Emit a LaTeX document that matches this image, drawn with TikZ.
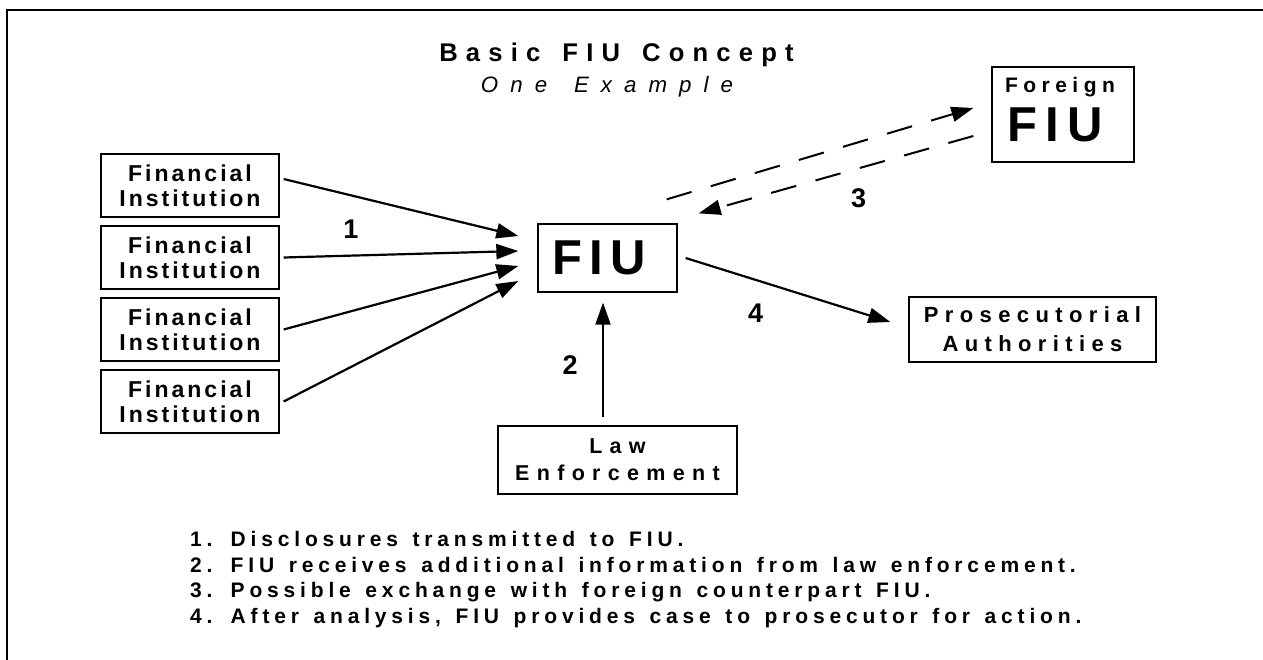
\documentclass[tikz,border=0pt]{standalone}
\usepackage{fontspec}
\setmainfont{Liberation Sans}
\usetikzlibrary{arrows.meta,calc}
\newcommand\lsb[4]{\fontsize{#1pt}{#2pt}\selectfont\bfseries\addfontfeatures{LetterSpace=#3}\spaceskip=#4\fontdimen2\font\relax}
\newcommand\lsi[4]{\fontsize{#1pt}{#2pt}\selectfont\itshape\addfontfeatures{LetterSpace=#3}\spaceskip=#4\fontdimen2\font\relax}
\begin{document}
\begin{tikzpicture}[x=1pt,y=-1pt,
  box/.style={draw, line width=1.3pt, inner sep=0pt},
  fibox/.style={box, minimum width=178pt, minimum height=63pt, align=center, font=\lsb{23}{25}{13}{1}},
  arr/.style={line width=2.2pt, -{Triangle[length=22pt,width=15pt]}},
  dsh/.style={line width=2pt, dash pattern=on 26pt off 20pt, -{Triangle[length=22pt,width=15pt]}},
  num/.style={inner sep=0pt, font=\lsb{27}{30}{0}{1}},
  note/.style={anchor=base west, inner sep=0pt, font=\lsb{21}{25.7}{23}{1.37}}]
\useasboundingbox (0,0) rectangle (1263,660);
\draw[line width=2pt] (7,660) -- (7,10) -- (1263,10);
% title
\node[anchor=base, inner sep=0pt, font=\lsb{25.6}{30}{32}{1.44}] (title) at (616.5,62) {Basic FIU Concept};
\node[anchor=base, inner sep=0pt, font=\lsi{22.3}{26}{54}{1.47}] (sub) at (607,93) {One Example};
% boxes
\node[fibox] (fi1) at (190,185.5) {Financial\\Institution};
\node[fibox] (fi2) at (190,257.5) {Financial\\Institution};
\node[fibox] (fi3) at (190,329.5) {Financial\\Institution};
\node[fibox] (fi4) at (190,401.5) {Financial\\Institution};
\node[box, minimum width=139pt, minimum height=68pt, font=\lsb{49}{50}{15}{1}] (fiu) at (607.5,258) {FIU\kern16pt};
\node[box, minimum width=239pt, minimum height=68pt, align=center, font=\lsb{21.5}{27}{34}{1}] (le) at (617.5,460) {Law\\Enforcement};
\node[box, minimum width=247pt, minimum height=65pt, align=center, font=\lsb{22}{29}{29}{1}] (pros) at (1032.5,329.5) {Prosecutorial\\Authorities};
\node[box, minimum width=142pt, minimum height=95pt] (ffiu) at (1063,114.5) {};
\node[anchor=base, inner sep=0pt, font=\lsb{21}{25}{26}{1}] (fortxt) at (1060,93) {Foreign};
\node[anchor=base, inner sep=0pt, font=\lsb{49}{52}{17}{1}] (ffiutxt) at (1055,142) {FIU};
% numbers
\node[num] (l1) at (351,229) {1};
\node[num] (l2) at (570,365) {2};
\node[num] (l3) at (858.5,198) {3};
\node[num] (l4) at (755.5,313) {4};
% arrow end points
\coordinate (t1) at ($(fiu.west)+(-19,-22)$);
\coordinate (t2) at ($(fiu.west)+(-19,-7)$);
\coordinate (t3) at ($(fiu.west)+(-19,8)$);
\coordinate (t4) at ($(fiu.west)+(-19,23)$);
\draw[arr] ($(fi1.east)+(4,-6.5)$) -- (t1);
\draw[arr] ($(fi2.east)+(4,0)$) -- (t2);
\draw[arr] ($(fi3.east)+(4,0)$) -- (t3);
\draw[arr] ($(fi4.east)+(4,0)$) -- (t4);
\draw[arr] ($(le.north)+(-14.5,-8)$) -- ($(fiu.south)+(-4.5,10)$);
\draw[arr] ($(fiu.east)+(8,0)$) -- ($(pros.west)+(-18,-7.5)$);
\draw[dsh] ($(fiu.north east)+(-11,-24)$) -- ($(ffiu.west)+(-18,-6.5)$);
\draw[dsh] ($(ffiu.west)+(-18,21.5)$) -- ($(fiu.north east)+(21,-10)$);
% notes
\node[note] (n1) at (190,546) {1. Disclosures transmitted to FIU.};
\node[note] (n2) at (190,572) {2. FIU receives additional information from law enforcement.};
\node[note] (n3) at (190,597.5) {3. Possible exchange with foreign counterpart FIU.};
\node[note] (n4) at (190,623) {4. After analysis, FIU provides case to prosecutor for action.};
\end{tikzpicture}
\end{document}
